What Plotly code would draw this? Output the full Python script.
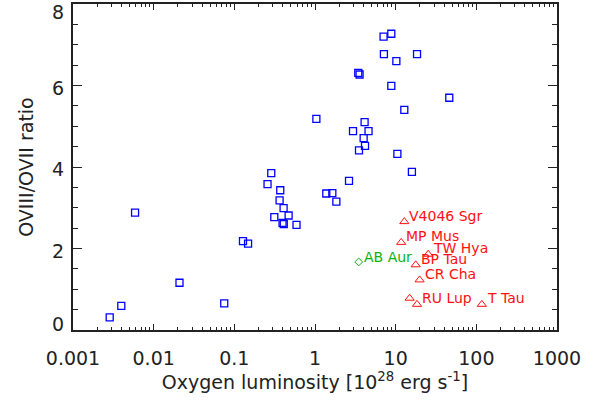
import math
import plotly.graph_objects as go

# Blue squares: field / main-sequence stars
sq_lum = [0.00285, 0.00397, 0.00588, 0.0209, 0.075, 0.128, 0.148, 0.258, 0.287, 0.313,
          0.371, 0.364, 0.408, 0.471, 0.396, 0.41, 0.59, 1.04, 1.38, 1.64,
          1.84, 2.64, 2.96, 3.44, 3.57, 3.51, 4.01, 4.12, 4.17, 4.61,
          7.08, 7.15, 8.83, 8.83, 10.2, 10.5, 12.8, 15.9, 18.4, 46.2]
sq_ratio = [0.31, 0.59, 2.88, 1.16, 0.655, 2.18, 2.12, 3.58, 3.85, 2.77,
            3.43, 3.18, 2.99, 2.81, 2.63, 2.60, 2.58, 5.18, 3.35, 3.36,
            3.15, 3.66, 4.88, 6.31, 6.27, 4.41, 4.71, 5.10, 4.52, 4.88,
            7.20, 6.77, 7.27, 5.99, 6.60, 4.32, 5.40, 3.88, 6.77, 5.70]

# Red triangles: CTTS
ctts_names = ["V4046 Sgr", "MP Mus", "TW Hya", "BP Tau", "CR Cha", "", "RU Lup", "T Tau"]
ctts_lum = [12.8, 11.7, 25.3, 17.7, 19.8, 14.9, 18.4, 117.0]
ctts_ratio = [2.66, 2.15, 1.86, 1.60, 1.23, 0.78, 0.63, 0.63]

# Green diamond: Herbig star
hae_names = ["AB Aur"]
hae_lum = [3.48]
hae_ratio = [1.67]

x_tickvals = [0.001, 0.01, 0.1, 1, 10, 100, 1000]
x_ticktext = ["0.001", "0.01", "0.1", "1", "10", "100", "1000"]
y_tickvals = [0, 2, 4, 6, 8]
y_ticktext = ["0", "2", "4", "6", "8"]

FONT = "DejaVu Sans"
AXC = "#222222"
BLUE = "#0000ff"
RED = "#ff1010"
GREEN = "#10b010"

fig = go.Figure()
fig.add_trace(go.Scatter(x=sq_lum, y=sq_ratio, mode="markers",
                         marker=dict(symbol="square-open", size=7, color=BLUE,
                                     line=dict(width=1.3, color=BLUE)),
                         showlegend=False, hoverinfo="skip"))
fig.add_trace(go.Scatter(x=ctts_lum, y=ctts_ratio, mode="markers",
                         marker=dict(symbol="triangle-up-open", size=8, color=RED,
                                     line=dict(width=1, color=RED)),
                         showlegend=False, hoverinfo="skip"))
fig.add_trace(go.Scatter(x=hae_lum, y=hae_ratio, mode="markers",
                         marker=dict(symbol="diamond-open", size=6, color=GREEN,
                                     line=dict(width=1, color=GREEN)),
                         showlegend=False, hoverinfo="skip"))

annots = []
for n, xv, yv in zip(ctts_names, ctts_lum, ctts_ratio):
    if n:
        annots.append(dict(x=math.log10(xv), y=yv, text=n, showarrow=False,
                           xanchor="left", yanchor="middle", xshift=3, yshift=6,
                           font=dict(family=FONT, size=14, color=RED)))
for n, xv, yv in zip(hae_names, hae_lum, hae_ratio):
    annots.append(dict(x=math.log10(xv), y=yv, text=n, showarrow=False,
                       xanchor="left", yanchor="middle", xshift=3, yshift=5,
                       font=dict(family=FONT, size=14, color=GREEN)))

# y tick labels as text beside the axis
y_label_shift = {0: 6, 2: -2, 4: -2, 6: -2, 8: -8}
for v, t in zip(y_tickvals, y_ticktext):
    annots.append(dict(xref="paper", x=0, y=v, text=t, showarrow=False,
                       xanchor="right", yanchor="middle", xshift=-7, yshift=y_label_shift[v],
                       font=dict(family=FONT, size=19, color=AXC)))

x_minor = [k * 10 ** e for e in range(-3, 3) for k in range(2, 10)]

fig.update_layout(
    width=603, height=401,
    margin=dict(l=73, r=46, t=4, b=71),
    paper_bgcolor="white", plot_bgcolor="white",
    font=dict(family=FONT, color=AXC),
    annotations=annots,
    xaxis=dict(type="log", range=[-3, 3], showgrid=False, zeroline=False,
               showline=True, linecolor=AXC, linewidth=1.5, mirror="ticks",
               ticks="inside", ticklen=6, tickwidth=1, tickcolor=AXC,
               tickmode="array", tickvals=x_tickvals, ticktext=x_ticktext,
               tickfont=dict(family=FONT, size=19, color=AXC),
               ticklabelstandoff=10,
               minor=dict(ticks="inside", ticklen=3, tickwidth=1, tickcolor=AXC,
                          tickmode="array", tickvals=x_minor, showgrid=False),
               title=dict(text="Oxygen luminosity [10<sup>28</sup> erg s<sup>-1</sup>]",
                          font=dict(family=FONT, size=19, color=AXC), standoff=6),
               automargin=False),
    yaxis=dict(range=[0, 8], showgrid=False, zeroline=False,
               showline=True, linecolor=AXC, linewidth=1.5, mirror="ticks",
               ticks="inside", ticklen=9, tickwidth=1, tickcolor=AXC,
               tickmode="array", tickvals=y_tickvals, ticktext=y_ticktext,
               showticklabels=False,
               minor=dict(ticks="inside", ticklen=5, tickwidth=1, tickcolor=AXC,
                          dtick=0.5, showgrid=False),
               title=dict(text="OVIII/OVII ratio",
                          font=dict(family=FONT, size=19, color=AXC), standoff=33),
               automargin=False),
)

fig.write_html("out.html",
               config={"displayModeBar": False},
               post_script="document.body.style.margin='0';document.body.style.padding='0';")
